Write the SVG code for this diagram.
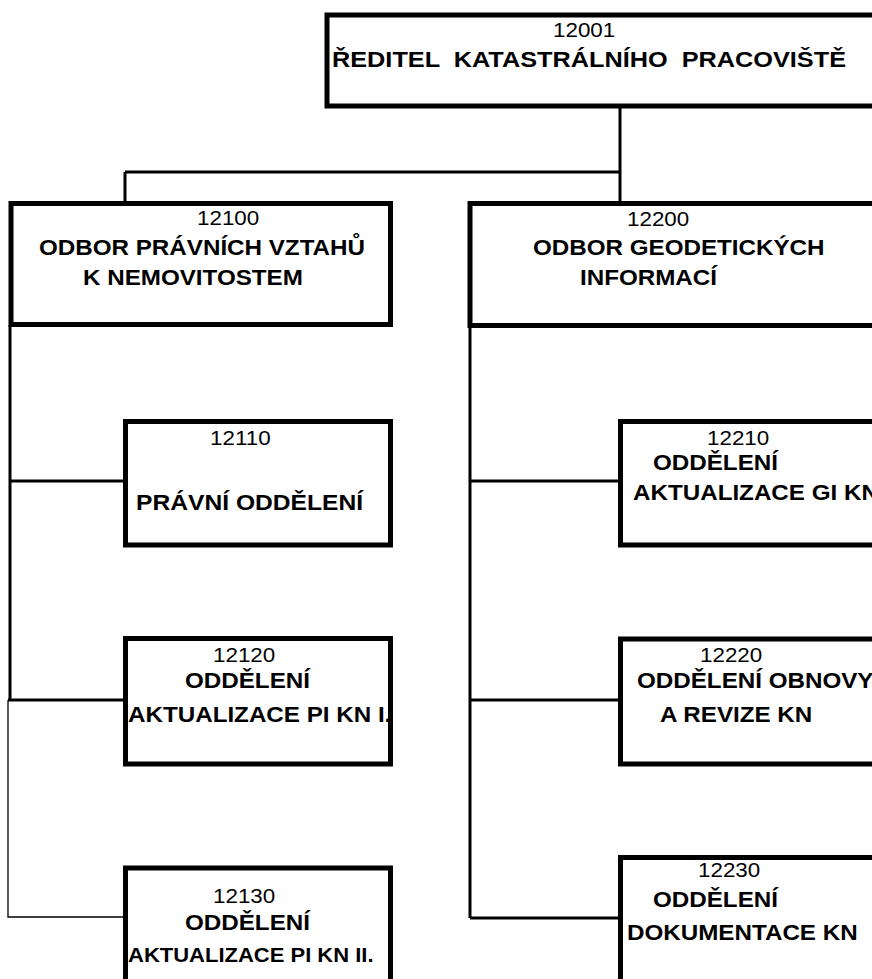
<svg xmlns="http://www.w3.org/2000/svg" width="872" height="979" viewBox="0 0 872 979">
<style>
.box{fill:#fff;stroke:#000;stroke-width:5}
.c{fill:none;stroke:#000;stroke-width:3}
.t{stroke-width:1.3}
.n{font-family:"Liberation Sans",Arial,sans-serif;font-size:20px;fill:#000}
.b{font-family:"Liberation Sans",Arial,sans-serif;font-size:22px;font-weight:bold;fill:#000;white-space:pre}
.s{font-size:20px}
</style>
<rect width="872" height="979" fill="#fff"/>
<g id="connectors">
<path class="c" d="M620,106 V203 M125,172 H621 M125,172 V203"/>
<path class="c" d="M10,325 V700 M10,481 H125 M8,700 H125"/>
<path class="c t" d="M8,700 V917 H125"/>
<path class="c" d="M470,325 V918 M470,481 H620 M470,700 H620 M470,918 H620"/>
</g>
<g id="n12001">
<rect class="box" x="327" y="15" width="600" height="91"/>
<text class="n" transform="matrix(1.12 0 0 1 553 37)">12001</text>
<text class="b" xml:space="preserve" transform="matrix(1.15 0 0 1 332 67)">ŘEDITEL  KATASTRÁLNÍHO  PRACOVIŠTĚ</text>
</g>
<g id="n12100">
<rect class="box" x="11" y="203.5" width="379.5" height="121"/>
<text class="n" transform="matrix(1.12 0 0 1 197 225)">12100</text>
<text class="b" transform="matrix(1.1 0 0 1 39 255)">ODBOR PRÁVNÍCH VZTAHŮ</text>
<text class="b" transform="matrix(1.1 0 0 1 83 285)">K NEMOVITOSTEM</text>
</g>
<g id="n12200">
<rect class="box" x="470" y="203.5" width="450" height="122"/>
<text class="n" transform="matrix(1.12 0 0 1 627 226)">12200</text>
<text class="b" transform="matrix(1.1 0 0 1 533 255)">ODBOR GEODETICKÝCH</text>
<text class="b" transform="matrix(1.1 0 0 1 580 285)">INFORMACÍ</text>
</g>
<g id="n12110">
<rect class="box" x="125.5" y="421.5" width="265" height="123.5"/>
<text class="n" transform="matrix(1.12 0 0 1 210 445)">12110</text>
<text class="b" transform="matrix(1.12 0 0 1 136 510)">PRÁVNÍ ODDĚLENÍ</text>
</g>
<g id="n12210">
<rect class="box" x="620.5" y="421.5" width="300" height="123.5"/>
<text class="n" transform="matrix(1.12 0 0 1 707 445)">12210</text>
<text class="b" transform="matrix(1.1 0 0 1 653 470)">ODDĚLENÍ</text>
<text class="b" transform="matrix(1.1 0 0 1 633 500)">AKTUALIZACE GI KN</text>
</g>
<g id="n12120">
<rect class="box" x="125.5" y="638.5" width="265" height="125.5"/>
<text class="n" transform="matrix(1.12 0 0 1 213 662)">12120</text>
<text class="b" transform="matrix(1.1 0 0 1 185 688)">ODDĚLENÍ</text>
<text class="b" transform="matrix(1.1 0 0 1 128 722)">AKTUALIZACE PI KN I.</text>
</g>
<g id="n12220">
<rect class="box" x="620.5" y="639" width="300" height="125"/>
<text class="n" transform="matrix(1.12 0 0 1 700 662)">12220</text>
<text class="b" transform="matrix(1.1 0 0 1 637 688)">ODDĚLENÍ OBNOVY</text>
<text class="b" transform="matrix(1.1 0 0 1 660 722)">A REVIZE KN</text>
</g>
<g id="n12130">
<rect class="box" x="125.5" y="868" width="265" height="140"/>
<text class="n" transform="matrix(1.12 0 0 1 213 903)">12130</text>
<text class="b" transform="matrix(1.1 0 0 1 185 930)">ODDĚLENÍ</text>
<text class="b s" transform="matrix(1.1 0 0 1 128 962)">AKTUALIZACE PI KN II.</text>
</g>
<g id="n12230">
<rect class="box" x="620.5" y="857.5" width="300" height="150"/>
<text class="n" transform="matrix(1.12 0 0 1 698 877)">12230</text>
<text class="b" transform="matrix(1.1 0 0 1 653 907)">ODDĚLENÍ</text>
<text class="b" transform="matrix(1.1 0 0 1 627 940)">DOKUMENTACE KN</text>
</g>
</svg>
